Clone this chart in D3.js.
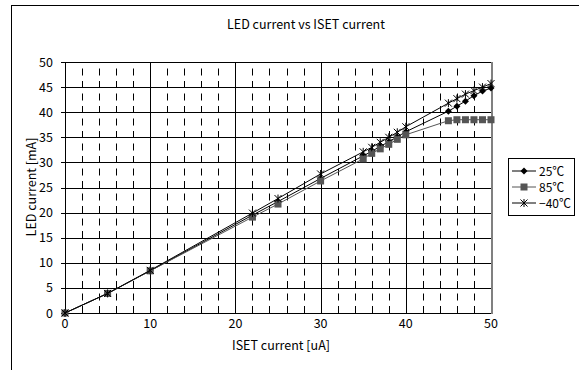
<!DOCTYPE html>
<html>
<head>
<meta charset="utf-8">
<script src="https://cdn.jsdelivr.net/npm/d3@7"></script>
<style>
  body { margin: 0; background: #fff; }
  text { font-family: "Noto Sans CJK JP", "DejaVu Sans", sans-serif; fill: #000; }
</style>
</head>
<body>
<div id="chart"></div>
<script>
// data
var iset = [0, 5, 10, 22, 25, 30, 35, 36, 37, 38, 39, 40, 45, 46, 47, 48, 49, 50];
var led25 = [0, 3.9, 8.4, 19.5, 22.2, 26.8, 31.3, 32.2, 33.2, 34.1, 35.1, 36.1, 40.2, 41.2, 42.2, 43.3, 44.2, 44.8];
var led85 = [0, 3.9, 8.4, 19.1, 21.7, 26.3, 30.7, 31.8, 32.7, 33.6, 34.6, 35.5, 38.3, 38.5, 38.5, 38.5, 38.5, 38.5];
var ledM40 = [0, 3.9, 8.5, 19.9, 22.8, 27.7, 32.1, 33.0, 34.0, 35.0, 36.0, 37.1, 41.8, 42.7, 43.6, 44.3, 45.0, 45.7];
var seriesNames = ["25\u2103", "85\u2103", "\u221240\u2103"];
var xTicks = [0, 10, 20, 30, 40, 50];
var yTicks = [0, 5, 10, 15, 20, 25, 30, 35, 40, 45, 50];

function init() {
    var W = 579, H = 370;
    var svg = d3.select("#chart").append("svg")
        .attr("width", W).attr("height", H);

    // chart frame
    svg.append("rect")
        .attr("x", 11.5).attr("y", 5.5)
        .attr("width", 640).attr("height", 420)
        .attr("fill", "#fff").attr("stroke", "#000");

    var xScale = d3.scaleLinear().domain([0, 50]).range([65, 491]);
    var yScale = d3.scaleLinear().domain([0, 50]).range([313, 62]);

    var grid = svg.append("g");
    // minor vertical dashed lines every 2
    d3.range(2, 50, 2).filter(function(d) { return d % 10 != 0; }).forEach(function(v) {
        grid.append("line")
            .attr("x1", Math.round(xScale(v)) + 0.5).attr("x2", Math.round(xScale(v)) + 0.5)
            .attr("y1", yScale(0)).attr("y2", yScale(50))
            .attr("stroke", "#000").attr("stroke-dasharray", "7,5.5");
        // small tick inside bottom axis
        grid.append("line")
            .attr("x1", Math.round(xScale(v)) + 0.5).attr("x2", Math.round(xScale(v)) + 0.5)
            .attr("y1", yScale(0)).attr("y2", yScale(0) - 5)
            .attr("stroke", "#000");
    });
    // major vertical lines
    [10, 20, 30, 40].forEach(function(v) {
        grid.append("line")
            .attr("x1", Math.round(xScale(v)) + 0.5).attr("x2", Math.round(xScale(v)) + 0.5)
            .attr("y1", yScale(0)).attr("y2", yScale(50))
            .attr("stroke", "#000");
    });
    // horizontal lines
    yTicks.forEach(function(v) {
        grid.append("line")
            .attr("x1", xScale(0) - 4).attr("x2", xScale(50))
            .attr("y1", Math.round(yScale(v)) + 0.5).attr("y2", Math.round(yScale(v)) + 0.5)
            .attr("stroke", "#000");
    });
    // left axis + right border
    grid.append("line")
        .attr("x1", Math.round(xScale(0)) + 0.5).attr("x2", Math.round(xScale(0)) + 0.5)
        .attr("y1", yScale(0)).attr("y2", yScale(50)).attr("stroke", "#000");
    grid.append("line")
        .attr("x1", xScale(50) + 1).attr("x2", xScale(50) + 1)
        .attr("y1", yScale(0) + 1).attr("y2", yScale(50))
        .attr("stroke", "#808080").attr("stroke-width", 2);

    // tick labels
    svg.append("g").selectAll("text").data(yTicks).enter().append("text")
        .attr("x", 53).attr("y", function(d) { return yScale(d) + 4.5; })
        .attr("text-anchor", "end").style("font-size", "12.5px")
        .text(function(d) { return d; });
    svg.append("g").selectAll("text").data(xTicks).enter().append("text")
        .attr("x", function(d) { return xScale(d); }).attr("y", 328)
        .attr("text-anchor", "middle").style("font-size", "12.5px")
        .text(function(d) { return d; });

    // titles
    svg.append("text").attr("x", 306).attr("y", 29)
        .attr("text-anchor", "middle").style("font-size", "12.5px")
        .text("LED current vs ISET current");
    svg.append("text").attr("x", 281).attr("y", 350)
        .attr("text-anchor", "middle").style("font-size", "12.5px")
        .text("ISET current [uA]");
    svg.append("text")
        .attr("transform", "translate(36," + 187 + ")rotate(-90)")
        .attr("text-anchor", "middle").style("font-size", "12.5px")
        .text("LED current [mA]");

    var line = d3.line()
        .x(function(d) { return xScale(d[0]); })
        .y(function(d) { return yScale(d[1]); });

    var series = [
        { name: seriesNames[0], vals: led25, color: "#000", marker: "diamond" },
        { name: seriesNames[1], vals: led85, color: "#555", marker: "square" },
        { name: seriesNames[2], vals: ledM40, color: "#000", marker: "star" }
    ];

    function drawMarker(g, type, cx, cy, color) {
        if (type == "diamond") {
            g.append("path")
                .attr("d", "M" + cx + "," + (cy - 3.5) + "L" + (cx + 3.5) + "," + cy + "L" + cx + "," + (cy + 3.5) + "L" + (cx - 3.5) + "," + cy + "Z")
                .attr("fill", color);
        } else if (type == "square") {
            g.append("rect")
                .attr("x", cx - 3.5).attr("y", cy - 3.5)
                .attr("width", 7).attr("height", 7)
                .attr("fill", color);
        } else {
            var r = 3.5;
            g.append("path")
                .attr("d", "M" + (cx - r) + "," + (cy - r) + "L" + (cx + r) + "," + (cy + r) +
                           "M" + (cx - r) + "," + (cy + r) + "L" + (cx + r) + "," + (cy - r) +
                           "M" + cx + "," + (cy - r - 0.5) + "L" + cx + "," + (cy + r + 0.5))
                .attr("stroke", color).attr("fill", "none");
        }
    }

    var plot = svg.append("g");
    series.forEach(function(s) {
        var pts = iset.map(function(x, i) { return [x, s.vals[i]]; });
        plot.append("path").datum(pts)
            .attr("d", line)
            .attr("fill", "none").attr("stroke", s.color).attr("stroke-width", 1);
        pts.forEach(function(p) {
            drawMarker(plot, s.marker, xScale(p[0]), yScale(p[1]), s.color);
        });
    });

    // legend
    var lg = svg.append("g");
    lg.append("rect").attr("x", 508.5).attr("y", 158.5)
        .attr("width", 66).attr("height", 57)
        .attr("fill", "#fff").attr("stroke", "#000");
    series.forEach(function(s, i) {
        var ly = 171 + i * 16;
        lg.append("line").attr("x1", 512).attr("x2", 536)
            .attr("y1", ly).attr("y2", ly).attr("stroke", s.color);
        drawMarker(lg, s.marker, 524, ly, s.color);
        lg.append("text").attr("x", 539).attr("y", ly + 4.5)
            .style("font-size", "12px").text(s.name);
    });
}
window.onload = init;
</script>
</body>
</html>
